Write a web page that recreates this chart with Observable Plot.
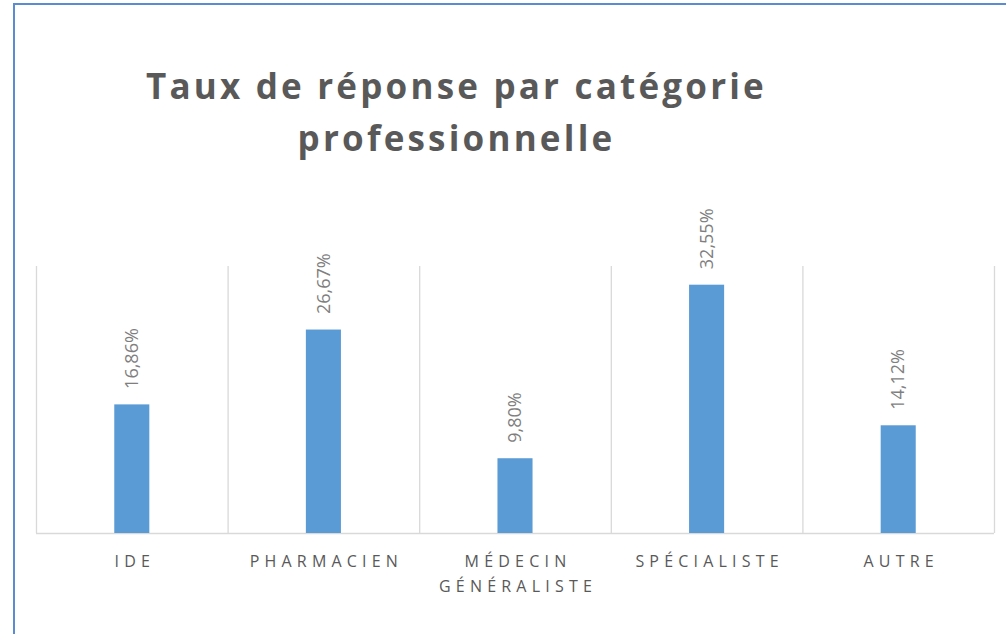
<!DOCTYPE html>
<html>
<head>
<meta charset="utf-8">
<script src="https://cdn.jsdelivr.net/npm/d3@7"></script>
<script src="https://cdn.jsdelivr.net/npm/@observablehq/plot@0.6"></script>
<style>
  body { margin: 0; background: #fff; }
  #wrap { position: relative; width: 1006px; height: 634px; overflow: hidden; background: #fff; font-family: "Open Sans", sans-serif; }
  #border { position: absolute; left: 13px; top: 3px; width: 1100px; height: 700px; border: 2px solid #5b8bd0; box-sizing: border-box; }
  #title { position: absolute; left: 0; top: 60px; width: 913px; text-align: center; font-weight: 700; font-size: 35px; line-height: 52px; letter-spacing: 3.2px; color: #595959; }
  #chart { position: absolute; left: 0; top: 200px; }
  #chart svg g[aria-label="x-axis tick label"] text { letter-spacing: 5.2px; font-size: 16px; fill: #595959; }
</style>
</head>
<body>
<div id="wrap">
  <div id="border"></div>
  <div id="title">Taux de réponse par catégorie<br>professionnelle</div>
  <div id="chart"></div>
</div>
<script>
const categories = ["IDE", "PHARMACIEN", "MÉDECIN\nGÉNÉRALISTE", "SPÉCIALISTE", "AUTRE"];
const values = [16.86, 26.67, 9.80, 32.55, 14.12];
const valueLabels = ["16,86%", "26,67%", "9,80%", "32,55%", "14,12%"];

const data = categories.map((c, i) => ({ i, category: c, value: values[i], label: valueLabels[i] }));
const half = 0.0915;

const chart = Plot.plot({
  width: 1006,
  height: 434,
  marginLeft: 36,
  marginRight: 12,
  marginTop: 66,
  marginBottom: 101,
  style: { fontFamily: "'Open Sans', sans-serif", background: "transparent" },
  x: { domain: [0, categories.length], axis: null },
  y: { domain: [0, 35], axis: null },
  marks: [
    Plot.ruleX(d3.range(categories.length + 1), { y1: 0, y2: 35, stroke: "#d9d9d9", strokeWidth: 1.3 }),
    Plot.ruleY([0], { stroke: "#d9d9d9", strokeWidth: 1.5 }),
    Plot.rect(data, { x1: d => d.i + 0.5 - half, x2: d => d.i + 0.5 + half, y1: 0, y2: "value", fill: "#5b9bd5" }),
    Plot.text(data, { x: d => d.i + 0.5, y: "value", text: "label", rotate: -90, textAnchor: "start", dy: -16, fontSize: 18, fill: "#7f7f7f" }),
    Plot.axisX(data.map(d => d.i + 0.5), { tickSize: 0, tickPadding: 16, tickFormat: d => categories[Math.floor(d)], lineHeight: 1.55, dx: 2.5 })
  ]
});
document.getElementById("chart").appendChild(chart);
</script>
</body>
</html>
